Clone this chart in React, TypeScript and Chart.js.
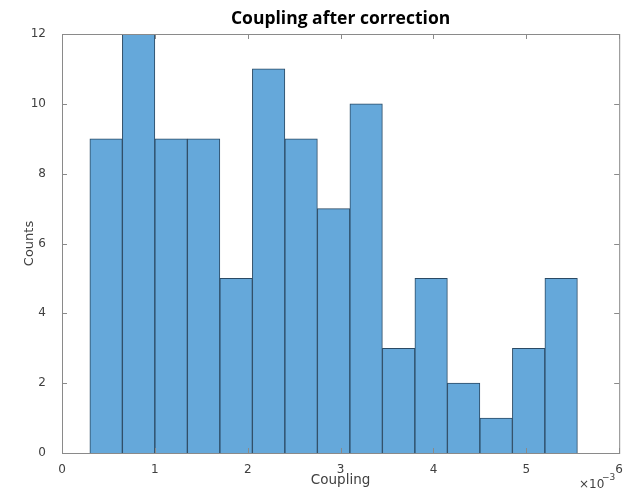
import React, { useEffect, useRef } from "react";
import { Chart, registerables } from "chart.js";

Chart.register(...registerables);

const binCenters = [0.475, 0.825, 1.175, 1.525, 1.875, 2.225, 2.575, 2.925, 3.275, 3.625, 3.975, 4.325, 4.675, 5.025, 5.375];
const counts = [9, 12, 9, 9, 5, 11, 9, 7, 10, 3, 5, 2, 1, 3, 5];
const xTicks = [0, 1, 2, 3, 4, 5, 6];
const yTicks = [0, 2, 4, 6, 8, 10, 12];
const titleText = "Coupling after correction";
const xLabel = "Coupling";
const yLabel = "Counts";

const frame = {
  id: "frame",
  afterDraw(chart: any) {
    const { ctx, chartArea: a, scales } = chart;
    ctx.save();
    ctx.strokeStyle = "#8a8a8a";
    ctx.lineWidth = 1;
    ctx.strokeRect(a.left + 0.5, a.top + 0.5, a.right - a.left, a.bottom - a.top);
    ctx.beginPath();
    for (const v of xTicks) {
      const px = Math.round(scales.x.getPixelForValue(v)) + 0.5;
      ctx.moveTo(px, a.bottom);
      ctx.lineTo(px, a.bottom - 5);
      ctx.moveTo(px, a.top);
      ctx.lineTo(px, a.top + 5);
    }
    for (const v of yTicks) {
      const py = Math.round(scales.y.getPixelForValue(v)) + 0.5;
      ctx.moveTo(a.left, py);
      ctx.lineTo(a.left + 5, py);
      ctx.moveTo(a.right, py);
      ctx.lineTo(a.right - 5, py);
    }
    ctx.stroke();
    ctx.fillStyle = "#000";
    ctx.font = "bold 17.5px 'Open Sans', sans-serif";
    ctx.textAlign = "center";
    ctx.textBaseline = "middle";
    ctx.fillText(titleText, (a.left + a.right) / 2, 19);
    ctx.fillStyle = "#404040";
    ctx.font = "12px 'DejaVu Sans', sans-serif";
    ctx.textAlign = "left";
    ctx.fillText("\u00d710", 579, 485);
    ctx.font = "9px 'DejaVu Sans', sans-serif";
    ctx.fillText("\u22123", 602, 478);
    ctx.restore();
  },
};

export default function App() {
  const ref = useRef<HTMLCanvasElement>(null);
  useEffect(() => {
    if (!ref.current) return;
    const chart = new Chart(ref.current, {
      type: "bar",
      data: {
        datasets: [
          {
            data: binCenters.map((c, i) => ({ x: c, y: counts[i] })),
            backgroundColor: "#65a8da",
            borderColor: "#2b4a64",
            borderWidth: 1,
            barPercentage: 1,
            categoryPercentage: 1,
          },
        ],
      },
      options: {
        animation: false,
        responsive: false,
        layout: { padding: { top: 34, right: 4, left: 0, bottom: 0 } },
        plugins: { legend: { display: false }, tooltip: { enabled: false }, title: { display: false } },
        scales: {
          x: {
            type: "linear",
            min: 0,
            max: 6,
            offset: false,
            afterBuildTicks: (s: any) => { s.ticks = xTicks.map((v) => ({ value: v })); },
            afterFit: (s: any) => { s.height = 36; },
            grid: { display: false },
            border: { display: false },
            ticks: { color: "#404040", font: { size: 12, family: "'DejaVu Sans', sans-serif" }, padding: 2, maxRotation: 0 },
            title: { display: true, text: xLabel, color: "#404040", font: { size: 13.5, family: "'DejaVu Sans', sans-serif" }, padding: { top: 0, bottom: 0 } },
          },
          y: {
            min: 0,
            max: 12,
            afterBuildTicks: (s: any) => { s.ticks = yTicks.map((v) => ({ value: v })); },
            afterFit: (s: any) => { s.width = 62; },
            grid: { display: false },
            border: { display: false },
            ticks: { color: "#404040", font: { size: 12, family: "'DejaVu Sans', sans-serif" }, padding: 8 },
            title: { display: true, text: yLabel, color: "#404040", font: { size: 13, family: "'DejaVu Sans', sans-serif" }, padding: { top: 22, bottom: 0 } },
          },
        },
      },
      plugins: [frame],
    });
    return () => chart.destroy();
  }, []);
  return (
    <div style={{ position: "fixed", left: 0, top: 0, width: 625, height: 489, background: "#fff" }}>
      <canvas ref={ref} width={625} height={489} style={{ width: 625, height: 489 }} />
    </div>
  );
}
